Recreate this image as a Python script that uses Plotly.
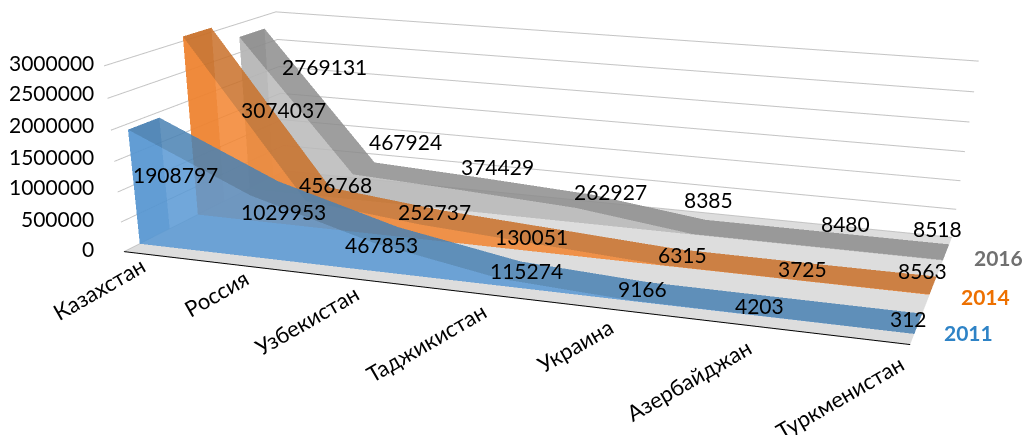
import plotly.graph_objects as go

categories = ["Казахстан", "Россия", "Узбекистан", "Таджикистан", "Украина", "Азербайджан", "Туркменистан"]
series_names = ["2011", "2014", "2016"]
values_2011 = [1908797, 1029953, 467853, 115274, 9166, 4203, 312]
values_2014 = [3074037, 456768, 252737, 130051, 6315, 3725, 8563]
values_2016 = [2769131, 467924, 374429, 262927, 8385, 8480, 8518]
z_ticks = [0, 500000, 1000000, 1500000, 2000000, 2500000, 3000000]

all_values = [values_2011, values_2014, values_2016]
face_colors = ["#5898D4", "#F2842F", "#B9B9B9"]
top_colors = ["#4981B3", "#C97029", "#8D8D8D"]
name_colors = ["#2E83C6", "#ED7000", "#707070"]
FONT = "Lato"
FIG_H = 1332  # tall page: the long-lens view needs a big viewport; only the top 435 px is seen

# label centres in page pixels
label_pos = [
    [(175, 175), (283, 212), (381, 245), (526, 270), (642, 288), (759, 305), (908, 319)],
    [(283, 110), (335, 185), (434, 211), (531, 236), (682, 255), (802, 268), (922, 270)],
    [(324, 66), (405, 142), (497, 167), (610, 191), (708, 200), (845, 223), (937, 228)],
]
cat_pos = [(99, 288), (216, 294), (306, 320), (426, 342), (575, 346), (688, 380), (839, 397)]
tick_y = [248, 218, 187, 156, 124, 93, 62]
name_pos = [(968, 332), (985, 296), (998, 257)]


def px(x, y, xanchor="center"):
    return dict(xref="paper", yref="paper", x=x / 1025, y=1 - y / FIG_H, showarrow=False,
                xanchor=xanchor, yanchor="middle")


def ribbon(vals, y0, y1, face, top):
    n = len(vals)
    xs = list(range(n))
    i, j, k = [], [], []
    for a in range(n - 1):
        i += [a, a + 1]
        j += [a + 1, n + a + 1]
        k += [n + a, n + a]
    common = dict(flatshading=True, lighting=dict(ambient=1, diffuse=0, specular=0, fresnel=0), hoverinfo="skip")
    return [
        go.Mesh3d(x=[0, 0, 0, 0], y=[y0, y1, y1, y0], z=[vals[0], vals[0], 0, 0], i=[0, 0], j=[1, 2], k=[2, 3],
                  color=top, opacity=0.55, **common),
        go.Mesh3d(x=xs + xs, y=[y0] * n + [y1] * n, z=vals + vals, i=i, j=j, k=k, color=top, opacity=0.85, **common),
        go.Mesh3d(x=xs + xs, y=[y0] * (2 * n), z=vals + [0] * n, i=i, j=j, k=k, color=face, opacity=0.85, **common),
    ]


fig = go.Figure()
for idx in [2, 1, 0]:
    for t in ribbon(all_values[idx], idx + 0.25, idx + 0.75, face_colors[idx], top_colors[idx]):
        fig.add_trace(t)

ann = []
for vals, poss in zip(all_values, label_pos):
    for v, (x, y) in zip(vals, poss):
        ann.append(dict(text=str(v), font=dict(family=FONT, size=21, color="black"), **px(x, y)))
for c, (x, y) in zip(categories, cat_pos):
    ann.append(dict(text=c, textangle=-30, font=dict(family=FONT, size=22, color="black"), **px(x, y)))
for t, y in zip(z_ticks, tick_y):
    ann.append(dict(text=str(t), font=dict(family=FONT, size=21, color="black"), **px(96, y, "right")))
for nm, col, (x, y) in zip(series_names, name_colors, name_pos):
    ann.append(dict(text="<b>%s</b>" % nm, font=dict(family=FONT, size=21, color=col), **px(x, y)))

fig.update_layout(
    width=1025, height=FIG_H, margin=dict(l=0, r=0, t=0, b=0), showlegend=False, paper_bgcolor="white",
    font=dict(family=FONT, size=21, color="black"), annotations=ann, hovermode=False,
    scene=dict(
        domain=dict(x=[0, 1], y=[0, 1]),
        aspectmode="manual", aspectratio=dict(x=2.0806, y=0.9816, z=0.4896),
        camera=dict(eye=dict(x=1.3151, y=-4.2159, z=0.9833), center=dict(x=0.0689, y=-0.4674, z=-1.321),
                    up=dict(x=0.0399, y=-0.1602, z=1)),
        xaxis=dict(tickvals=list(range(7)), showticklabels=False, title="", range=[0, 6], showgrid=False, ticks="",
                   showbackground=False, zeroline=False, showline=True, linecolor="black", linewidth=2, showspikes=False),
        yaxis=dict(tickvals=[], showticklabels=False, title="", range=[0, 3], showgrid=False, ticks="",
                   showbackground=False, zeroline=False, showline=False, showspikes=False),
        zaxis=dict(tickvals=z_ticks, showticklabels=False, title="", range=[0, 3100000], showgrid=True, ticks="",
                   gridcolor="#C4C4C4", gridwidth=2, showbackground=True, backgroundcolor="#DDDDDD", zeroline=False,
                   showline=False, showspikes=False),
    ),
)
fig.write_html("out.html", config={"displayModeBar": False},
               post_script="document.body.style.margin='0';document.documentElement.style.overflow='hidden';")
